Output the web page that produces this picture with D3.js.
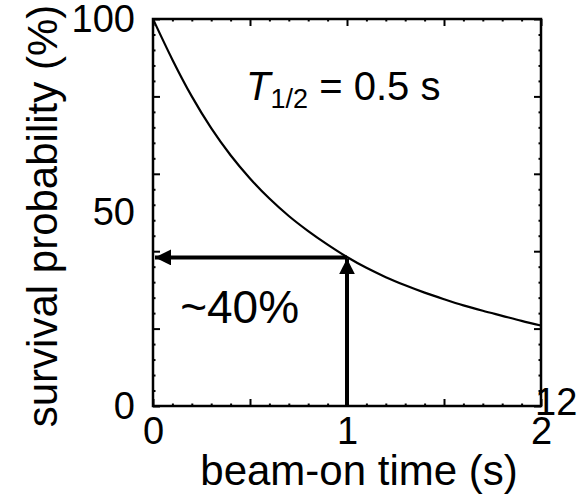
<!DOCTYPE html>
<html>
<head>
<meta charset="utf-8">
<script src="https://cdn.jsdelivr.net/npm/d3@7"></script>
<style>
  body { margin: 0; background: #fff; }
  svg { display: block; font-family: "Liberation Sans", Arial, sans-serif; }
</style>
</head>
<body>
<svg id="chart" width="586" height="502"></svg>
<script>
// beam-on time (s) and survival probability (%)
var times = [0, 0.1, 0.2, 0.3, 0.4, 0.5, 0.6, 0.7, 0.8, 0.9, 1.0,
             1.1, 1.2, 1.3, 1.4, 1.5, 1.6, 1.7, 1.8, 1.9, 2.0];
var survival = [100, 89.5, 80, 71.8, 64.8, 58.8, 53.6, 49.1, 45.2, 41.7, 38.5,
                35.7, 33.3, 31.2, 29.3, 27.6, 26.0, 24.6, 23.3, 22.0, 20.8];

var xLabels = [0, 1, 2];
var yLabels = [0, 50, 100];
var xMajor = [0, 0.5, 1, 1.5, 2];
var yMajor = [0, 20, 40, 60, 80, 100];

// arrow annotation: time where it is read and value it points to
var markTime = 1;
var markValue = 38.4;

var svg = d3.select("#chart");
var padding = {top: 19, right: 45, bottom: 96, left: 153};
var W = 586 - padding.left - padding.right;
var H = 502 - padding.top - padding.bottom;

var x = d3.scaleLinear().domain([0, 2]).range([0, W]);
var y = d3.scaleLinear().domain([0, 100]).range([H, 0]);

var xMinor = d3.range(0, 2.0001, 0.1).map(function (d) { return +d.toFixed(2); })
    .filter(function (d) { return xMajor.indexOf(d) < 0; });
var yMinor = d3.range(0, 100.1, 4).filter(function (d) { return yMajor.indexOf(d) < 0; });

var g = svg.append("g")
    .attr("transform", "translate(" + padding.left + "," + padding.top + ")");

function tickAxis(axisFn, scale, values, size, transform) {
    var a = g.append("g")
        .attr("transform", transform)
        .call(axisFn(scale).tickValues(values).tickSize(-size).tickSizeOuter(0).tickFormat(""));
    a.select(".domain").remove();
    a.selectAll("line").attr("stroke", "#000").attr("stroke-width", 2);
}

tickAxis(d3.axisBottom, x, xMajor, 7, "translate(0," + H + ")");
tickAxis(d3.axisBottom, x, xMinor, 2.5, "translate(0," + H + ")");
tickAxis(d3.axisTop, x, xMajor, 7, "translate(0,0)");
tickAxis(d3.axisTop, x, xMinor, 2.5, "translate(0,0)");
tickAxis(d3.axisLeft, y, yMajor, 7, "translate(0,0)");
tickAxis(d3.axisLeft, y, yMinor, 2.5, "translate(0,0)");
tickAxis(d3.axisRight, y, yMajor, 7, "translate(" + W + ",0)");
tickAxis(d3.axisRight, y, yMinor, 2.5, "translate(" + W + ",0)");

// tick labels
var xLab = g.append("g")
    .attr("transform", "translate(0," + H + ")")
    .call(d3.axisBottom(x).tickValues(xLabels).tickSize(0).tickPadding(11).tickFormat(d3.format("d")));
xLab.select(".domain").remove();
xLab.selectAll("text").attr("font-size", 38).attr("font-family", "Liberation Sans, Arial, sans-serif").attr("fill", "#000");

var yLab = g.append("g")
    .call(d3.axisLeft(y).tickValues(yLabels).tickSize(0).tickPadding(18).tickFormat(d3.format("d")));
yLab.select(".domain").remove();
yLab.selectAll("text").attr("font-size", 38).attr("font-family", "Liberation Sans, Arial, sans-serif").attr("fill", "#000");

// stray label at the lower right corner
g.append("text")
    .attr("x", W - 6)
    .attr("y", H + 9)
    .attr("font-size", 38)
    .text("12");

// curve
var data = times.map(function (t, i) { return {t: t, v: survival[i]}; });
g.append("path")
    .datum(data)
    .attr("fill", "none")
    .attr("stroke", "#000")
    .attr("stroke-width", 2.2)
    .attr("d", d3.line()
        .x(function (d) { return x(d.t); })
        .y(function (d) { return y(d.v); })
        .curve(d3.curveMonotoneX));

// arrows
var defs = svg.append("defs");
defs.append("marker")
    .attr("id", "head")
    .attr("viewBox", "0 0 10 10")
    .attr("refX", 10).attr("refY", 5)
    .attr("markerWidth", 4).attr("markerHeight", 4)
    .attr("markerUnits", "strokeWidth")
    .attr("orient", "auto")
    .append("path")
    .attr("d", "M0,0 L10,5 L0,10 z")
    .attr("fill", "#000");

g.append("line")
    .attr("x1", x(markTime)).attr("y1", y(markValue))
    .attr("x2", x(0) + 2).attr("y2", y(markValue))
    .attr("stroke", "#000").attr("stroke-width", 4)
    .attr("marker-end", "url(#head)");

g.append("line")
    .attr("x1", x(markTime)).attr("y1", y(0))
    .attr("x2", x(markTime)).attr("y2", y(markValue) + 1)
    .attr("stroke", "#000").attr("stroke-width", 4)
    .attr("marker-end", "url(#head)");

// frame
g.append("rect")
    .attr("width", W).attr("height", H)
    .attr("fill", "none")
    .attr("stroke", "#000")
    .attr("stroke-width", 2.5);

// annotations
var half = g.append("text")
    .attr("x", x(0.48))
    .attr("y", 81)
    .attr("font-size", 40);
half.append("tspan").attr("font-style", "italic").text("T");
half.append("tspan").attr("font-size", 27).attr("dy", 8).text("1/2");
half.append("tspan").attr("dy", -8).text(" = 0.5 s");

g.append("text")
    .attr("x", x(0.14))
    .attr("y", y(21.5))
    .attr("font-size", 46)
    .text("~40%");

// axis titles
svg.append("text")
    .attr("x", padding.left + W / 2 + 12)
    .attr("y", 485)
    .attr("text-anchor", "middle")
    .attr("font-size", 42)
    .text("beam-on time (s)");

svg.append("text")
    .attr("transform", "translate(57,216) rotate(-90)")
    .attr("text-anchor", "middle")
    .attr("font-size", 42)
    .text("survival probability (%)");
</script>
</body>
</html>
